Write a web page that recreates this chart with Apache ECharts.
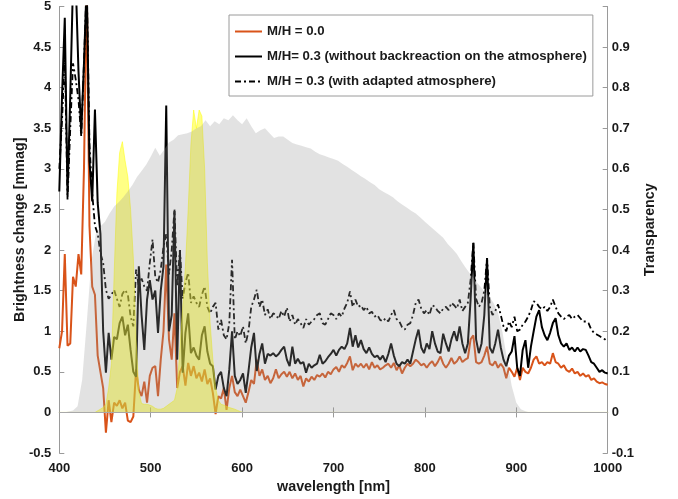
<!DOCTYPE html>
<html>
<head>
<meta charset="utf-8">
<script src="https://cdn.jsdelivr.net/npm/echarts@6/dist/echarts.min.js"></script>
<style>
  html, body { margin: 0; padding: 0; background: #fff; }
  #chart { width: 678px; height: 499px; }
</style>
</head>
<body>
<div id="chart"></div>
<script>
// Wavelength sampling grid of the brightness-change spectra (3 nm steps, 400–1000 nm)
const wavelength = [];
for (let w = 400; w <= 1000; w += 3) wavelength.push(w);

// Brightness change [mmag], M/H = 0.0
const mh00 = [
  0.79, 1.0, 1.95, 0.82, 0.85, 1.67, 1.55, 1.95, 1.7, 3.0,
  5.3, 2.3, 1.55, 1.45, 0.7, 0.5, 0.3, -0.25, 0.15, -0.12,
  0.12, 0.08, 0.15, 0.05, 0.12, -0.1, -0.12, -0.05, 0.53, 0.28,
  0.2, 0.38, 0.12, 0.45, 0.55, 0.57, 0.2, 0.65, 1.0, 1.82,
  0.9, 0.65, 1.22, 0.3, 0.5, 0.57, 0.33, 0.61, 0.45, 0.57,
  0.42, 0.49, 0.38, 0.53, 0.35, 0.42, 0.24, -0.02, 0.2, 0.17,
  0.3, 0.03, 0.3, 0.45, 0.25, 0.2, 0.28, 0.2, 0.12, 0.25,
  0.4, 0.35, 0.65, 0.45, 0.53, 0.4, 0.45, 0.36, 0.42, 0.53,
  0.42, 0.47, 0.5, 0.44, 0.5, 0.42, 0.48, 0.4, 0.45, 0.32,
  0.42, 0.38, 0.44, 0.4, 0.46, 0.44, 0.48, 0.43, 0.5, 0.47,
  0.53, 0.56, 0.5, 0.58, 0.55, 0.61, 0.69, 0.52, 0.6, 0.56,
  0.6, 0.55, 0.6, 0.53, 0.62, 0.55, 0.58, 0.53, 0.55, 0.58,
  0.6, 0.55, 0.61, 0.52, 0.58, 0.48, 0.55, 0.6, 0.57, 0.6,
  0.65, 0.62, 0.58, 0.6, 0.55, 0.6, 0.63, 0.57, 0.62, 0.69,
  0.6, 0.55, 0.6, 0.67, 0.6, 0.63, 0.69, 0.62, 0.65, 0.67,
  0.9, 0.95, 0.62, 0.6, 0.62, 0.7, 0.81, 0.6, 0.58, 0.63,
  0.55, 0.6, 0.55, 0.42, 0.55, 0.5, 0.44, 0.55, 0.4, 0.55,
  0.5, 0.48, 0.55, 0.65, 0.69, 0.6, 0.62, 0.58, 0.62, 0.6,
  0.73, 0.62, 0.6, 0.55, 0.58, 0.52, 0.5, 0.54, 0.48, 0.5,
  0.45, 0.48, 0.44, 0.46, 0.4, 0.42, 0.38, 0.36, 0.37, 0.35,
  0.34
];

// Brightness change [mmag], M/H = 0.3 without backreaction on the atmosphere
const mh03Plain = [
  2.72, 3.9, 4.86, 2.68, 3.9, 5.3, 5.3, 4.2, 3.44, 4.3,
  5.3, 3.1, 2.6, 3.73, 2.58, 2.2, 1.0, 0.49, 0.98, 0.65,
  0.93, 0.9, 1.1, 1.18, 0.95, 1.08, 0.77, 0.5, 0.44, 1.8,
  1.2, 0.77, 1.39, 1.63, 1.39, 1.5, 0.98, 1.5, 1.8, 3.78,
  1.0, 1.2, 2.48, 0.65, 2.0, 0.49, 0.98, 1.22, 0.73, 0.8,
  0.7, 0.65, 0.95, 1.06, 0.75, 0.6, 0.57, 0.28, 0.45, 0.5,
  0.3, 0.2, 0.53, 1.0, 0.45, 0.35, 0.4, 0.48, 0.24, 0.51,
  0.8, 0.98, 0.51, 0.72, 0.85, 0.6, 0.72, 0.7, 0.73, 0.69,
  0.72, 0.77, 0.81, 0.65, 0.57, 0.81, 0.6, 0.66, 0.6, 0.62,
  0.49, 0.6, 0.55, 0.58, 0.6, 0.71, 0.6, 0.63, 0.68, 0.72,
  0.77, 0.7, 0.77, 0.81, 0.78, 0.85, 1.04, 0.81, 0.95, 0.8,
  0.89, 0.78, 0.73, 0.8, 0.72, 0.68, 0.7, 0.65, 0.7, 0.62,
  0.72, 0.85, 0.7, 0.6, 0.57, 0.62, 0.6, 0.65, 0.6, 0.75,
  0.9, 1.02, 0.8, 0.73, 0.85, 0.78, 1.0, 0.85, 0.75, 0.73,
  0.97, 0.85, 0.75, 0.9, 1.0, 0.88, 1.06, 0.85, 0.73, 0.85,
  1.39, 2.09, 0.9, 0.73, 0.85, 1.2, 1.9, 0.8, 0.73, 0.85,
  1.02, 0.8, 0.65, 0.57, 0.7, 0.75, 0.94, 0.55, 0.45, 0.77,
  0.89, 0.55, 0.81, 1.0, 1.18, 1.26, 1.05, 0.95, 0.89, 0.98,
  1.1, 1.16, 0.95, 0.85, 0.81, 0.85, 0.77, 0.8, 0.75, 0.8,
  0.75, 0.78, 0.77, 0.7, 0.62, 0.6, 0.55, 0.5, 0.52, 0.49,
  0.48
];

// Brightness change [mmag], M/H = 0.3 with adapted atmosphere
const mh03Adapted = [
  3.0, 3.6, 4.4, 2.62, 3.5, 4.3, 4.1, 3.85, 3.4, 4.3,
  5.3, 3.3, 2.7, 2.3, 2.2, 1.96, 1.84, 1.51, 1.4, 1.45,
  1.51, 1.4, 1.3, 1.46, 1.51, 1.45, 1.18, 1.06, 1.76, 1.55,
  1.65, 1.55, 1.5, 1.84, 2.13, 1.67, 1.6, 1.76, 2.04, 2.2,
  1.7, 2.0, 2.5, 1.55, 2.0, 1.4, 1.6, 1.72, 1.35, 1.43,
  1.35, 1.3, 1.45, 1.55, 1.3, 1.22, 1.3, 1.35, 1.02, 1.14,
  0.95, 0.9, 1.1, 1.88, 0.9, 1.0, 0.94, 1.06, 0.85, 1.0,
  1.3, 1.39, 1.51, 1.3, 1.39, 1.2, 1.27, 1.15, 1.22, 1.2,
  1.15, 1.25, 1.18, 1.29, 1.12, 1.2, 1.08, 1.15, 1.1, 1.04,
  1.15, 1.08, 1.12, 1.15, 1.2, 1.22, 1.1, 1.08, 1.15, 1.22,
  1.2, 1.15, 1.22, 1.18, 1.28, 1.35, 1.49, 1.3, 1.39, 1.3,
  1.32, 1.26, 1.3, 1.22, 1.24, 1.18, 1.2, 1.14, 1.12, 1.16,
  1.12, 1.2, 1.26, 1.15, 1.12, 1.05, 1.02, 1.08, 1.1, 1.2,
  1.35, 1.39, 1.28, 1.22, 1.26, 1.2, 1.32, 1.3, 1.25, 1.22,
  1.28, 1.3, 1.26, 1.35, 1.32, 1.28, 1.39, 1.25, 1.3, 1.35,
  1.63, 2.09, 1.4, 1.3, 1.35, 1.5, 1.9, 1.3, 1.2, 1.25,
  1.33, 1.2, 1.06, 1.0, 1.12, 1.05, 1.18, 1.0, 1.02, 1.08,
  1.12, 1.18, 1.26, 1.37, 1.35, 1.3, 1.27, 1.3, 1.25, 1.3,
  1.39, 1.3, 1.22, 1.18, 1.15, 1.18, 1.2, 1.15, 1.18, 1.2,
  1.16, 1.12, 1.12, 1.1, 1.02, 0.98, 0.96, 0.94, 0.92, 0.9,
  0.87
];

// Filter transmission (yellow bands), same 3 nm grid, transparency units
const filterBands = [
  0, 0, 0, 0, 0, 0, 0, 0, 0, 0,
  0, 0, 0, 0, 0.004, 0.008, 0.012, 0.02, 0.06, 0.12,
  0.34, 0.54, 0.64, 0.667, 0.62, 0.58, 0.5, 0.38, 0.18, 0.05,
  0.022, 0.02, 0.02, 0.018, 0.015, 0.01, 0.008, 0.008, 0.01, 0.015,
  0.02, 0.025, 0.03, 0.06, 0.16, 0.26, 0.36, 0.5, 0.66, 0.745,
  0.7, 0.745, 0.73, 0.6, 0.37, 0.22, 0.13, 0.06, 0.03, 0.02,
  0.018, 0.015, 0.012, 0.01, 0.008, 0.005, 0.002, 0, 0, 0,
  0, 0, 0, 0, 0, 0, 0, 0, 0, 0,
  0, 0, 0, 0, 0, 0, 0, 0, 0, 0,
  0, 0, 0, 0, 0, 0, 0, 0, 0, 0,
  0, 0, 0, 0, 0, 0, 0, 0, 0, 0,
  0, 0, 0, 0, 0, 0, 0, 0, 0, 0,
  0, 0, 0, 0, 0, 0, 0, 0, 0, 0,
  0, 0, 0, 0, 0, 0, 0, 0, 0, 0,
  0, 0, 0, 0, 0, 0, 0, 0, 0, 0,
  0, 0, 0, 0, 0, 0, 0, 0, 0, 0,
  0, 0, 0, 0, 0, 0, 0, 0, 0, 0,
  0, 0, 0, 0, 0, 0, 0, 0, 0, 0,
  0, 0, 0, 0, 0, 0, 0, 0, 0, 0,
  0, 0, 0, 0, 0, 0, 0, 0, 0, 0,
  0
];

// Atmospheric transparency (grey area), 5 nm grid
const transWavelength = [];
for (let w = 400; w <= 1000; w += 5) transWavelength.push(w);
const transparency = [
  0, 0, 0.002, 0.005, 0.015, 0.08, 0.22, 0.37, 0.44, 0.458,
  0.47, 0.49, 0.507, 0.518, 0.53, 0.545, 0.56, 0.58, 0.595, 0.61,
  0.63, 0.652, 0.632, 0.648, 0.665, 0.672, 0.683, 0.685, 0.688, 0.692,
  0.7, 0.705, 0.72, 0.705, 0.717, 0.71, 0.725, 0.72, 0.732, 0.72,
  0.71, 0.725, 0.705, 0.688, 0.695, 0.7, 0.688, 0.676, 0.68, 0.68,
  0.672, 0.664, 0.66, 0.657, 0.653, 0.65, 0.642, 0.636, 0.632, 0.628,
  0.624, 0.62, 0.612, 0.605, 0.597, 0.59, 0.582, 0.575, 0.567, 0.56,
  0.55, 0.543, 0.537, 0.53, 0.52, 0.512, 0.505, 0.497, 0.49, 0.48,
  0.47, 0.46, 0.45, 0.44, 0.43, 0.415, 0.403, 0.39, 0.372, 0.355,
  0.34, 0.325, 0.312, 0.298, 0.286, 0.27, 0.245, 0.196, 0.13, 0.065,
  0.024, 0.008, 0.003, 0, 0, 0, 0, 0, 0, 0,
  0, 0, 0, 0, 0, 0, 0, 0, 0, 0,
  0
];

// Axis ticks
const xTicks = { min: 400, max: 1000, step: 100 };
const leftTicks = { min: -0.5, max: 5, step: 0.5 };
const rightTicks = { min: -0.1, max: 1.0, step: 0.1 };

const seriesNames = [
  'M/H = 0.0',
  'M/H= 0.3 (without backreaction on the atmosphere)',
  'M/H = 0.3 (with adapted atmosphere)'
];

const pair = (xs, ys) => xs.map((x, i) => [x, ys[i]]);

const FONT = '"Liberation Sans", Arial, Helvetica, sans-serif';
const AXIS_GREY = '#9a9a9a';
const TEXT = '#1a1a1a';

const chart = echarts.init(document.getElementById('chart'), null, { renderer: 'canvas' });

const tickLabel = { color: TEXT, fontFamily: FONT, fontWeight: 'bold', fontSize: 13 };
const titleText = { color: TEXT, fontFamily: FONT, fontWeight: 'bold', fontSize: 14.3 };
const plainNumber = v => String(Math.round(v * 10) / 10);

chart.setOption({
  animation: false,
  backgroundColor: '#ffffff',
  grid: { left: 59.3, right: 70.3, top: 4.2, bottom: 45.7, containLabel: false },
  legend: {
    data: seriesNames,
    orient: 'vertical',
    left: 229,
    top: 15,
    padding: [10, 6, 8, 5],
    itemWidth: 27,
    itemHeight: 14,
    itemGap: 12,
    backgroundColor: '#ffffff',
    borderColor: AXIS_GREY,
    borderWidth: 1,
    itemStyle: { opacity: 0 },
    textStyle: { color: TEXT, fontFamily: FONT, fontWeight: 'bold', fontSize: 13.2 }
  },
  xAxis: [
    {
      type: 'value',
      position: 'bottom',
      min: xTicks.min, max: xTicks.max, interval: xTicks.step,
      name: 'wavelength [nm]',
      nameLocation: 'middle',
      nameGap: 27,
      nameMoveOverlap: false,
      nameTextStyle: titleText,
      axisLine: { show: true, lineStyle: { color: AXIS_GREY, width: 1 } },
      axisTick: { show: true, inside: true, length: 5, lineStyle: { color: AXIS_GREY } },
      axisLabel: Object.assign({ margin: 9, formatter: v => String(v) }, tickLabel),
      splitLine: { show: false }
    },
    {
      type: 'value',
      position: 'top',
      min: xTicks.min, max: xTicks.max, interval: xTicks.step,
      axisLine: { show: true, lineStyle: { color: AXIS_GREY, width: 1 } },
      axisTick: { show: true, inside: true, length: 5, lineStyle: { color: AXIS_GREY } },
      axisLabel: { show: false },
      splitLine: { show: false }
    }
  ],
  yAxis: [
    {
      type: 'value',
      position: 'left',
      min: leftTicks.min, max: leftTicks.max, interval: leftTicks.step,
      name: 'Brightness change [mmag]',
      nameLocation: 'middle',
      nameRotate: 90,
      nameGap: 32,
      nameMoveOverlap: false,
      nameTextStyle: titleText,
      axisLine: { show: true, lineStyle: { color: AXIS_GREY, width: 1 } },
      axisTick: { show: true, inside: true, length: 5, lineStyle: { color: AXIS_GREY } },
      axisLabel: Object.assign({ margin: 8, formatter: plainNumber }, tickLabel),
      splitLine: { show: false }
    },
    {
      type: 'value',
      position: 'right',
      min: rightTicks.min, max: rightTicks.max, interval: rightTicks.step,
      name: 'Transparency',
      nameLocation: 'middle',
      nameRotate: 90,
      nameGap: 35,
      nameMoveOverlap: false,
      nameTextStyle: titleText,
      axisLine: { show: true, lineStyle: { color: AXIS_GREY, width: 1 } },
      axisTick: { show: true, inside: true, length: 5, lineStyle: { color: AXIS_GREY } },
      axisLabel: Object.assign({
        margin: 4,
        formatter: v => (v > 0.95 ? '' : plainNumber(v))
      }, tickLabel),
      splitLine: { show: false }
    }
  ],
  series: [
    {
      name: seriesNames[0],
      type: 'line',
      xAxisIndex: 0, yAxisIndex: 0,
      data: pair(wavelength, mh00),
      symbol: 'none',
      lineStyle: { color: '#d95319', width: 2 },
      itemStyle: { color: '#d95319' },
      z: 2,
      markLine: {
        silent: true,
        symbol: 'none',
        label: { show: false },
        lineStyle: { color: '#a8a8a8', width: 1, type: 'solid' },
        data: [{ yAxis: 0 }]
      }
    },
    {
      name: seriesNames[1],
      type: 'line',
      xAxisIndex: 0, yAxisIndex: 0,
      data: pair(wavelength, mh03Plain),
      symbol: 'none',
      lineStyle: { color: '#000000', width: 2 },
      itemStyle: { color: '#000000' },
      z: 2
    },
    {
      name: seriesNames[2],
      type: 'line',
      xAxisIndex: 0, yAxisIndex: 0,
      data: pair(wavelength, mh03Adapted),
      symbol: 'none',
      lineStyle: { color: '#000000', width: 1.8, type: [6, 3, 2, 3] },
      itemStyle: { color: '#000000' },
      z: 2
    },
    {
      name: 'filters',
      type: 'line',
      xAxisIndex: 0, yAxisIndex: 1,
      data: pair(wavelength, filterBands),
      symbol: 'none',
      silent: true,
      lineStyle: { color: 'rgba(255,255,0,0.5)', width: 1 },
      areaStyle: { color: 'rgba(255,255,0,0.48)', opacity: 1 },
      z: 3
    },
    {
      name: 'transparency',
      type: 'line',
      xAxisIndex: 0, yAxisIndex: 1,
      data: pair(transWavelength, transparency),
      symbol: 'none',
      silent: true,
      lineStyle: { opacity: 0, width: 0 },
      areaStyle: { color: 'rgba(150,150,150,0.28)', opacity: 1 },
      z: 4
    }
  ]
});
</script>
</body>
</html>
